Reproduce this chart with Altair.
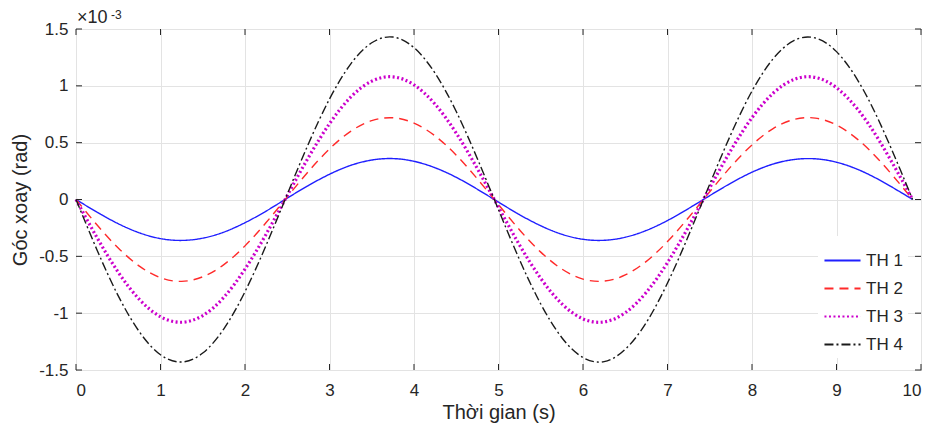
import altair as alt
import pandas as pd

# time samples (s)
t = [0, 0.25, 0.5, 0.75, 1.0, 1.25, 1.5, 1.75, 2.0, 2.25, 2.5, 2.75, 3.0, 3.25, 3.5, 3.75,
     4.0, 4.25, 4.5, 4.75, 5.0, 5.25, 5.5, 5.75, 6.0, 6.25, 6.5, 6.75, 7.0, 7.25, 7.5, 7.75,
     8.0, 8.25, 8.5, 8.75, 9.0, 9.25, 9.5, 9.75, 9.9]

# rotation angle (x 1e-3 rad)
th1 = [0, -0.112, -0.213, -0.293, -0.344, -0.360, -0.340, -0.287, -0.204, -0.102, 0.012, 0.123,
       0.222, 0.300, 0.347, 0.360, 0.336, 0.279, 0.195, 0.090, -0.023, -0.134, -0.231, -0.306,
       -0.350, -0.359, -0.332, -0.272, -0.185, -0.079, 0.034, 0.144, 0.240, 0.312, 0.352, 0.358,
       0.328, 0.265, 0.175, 0.068, 0]
th2 = [0, -0.225, -0.427, -0.586, -0.688, -0.720, -0.680, -0.573, -0.408, -0.203, 0.023, 0.246,
       0.445, 0.600, 0.694, 0.719, 0.672, 0.559, 0.390, 0.181, -0.045, -0.268, -0.463, -0.612,
       -0.700, -0.718, -0.664, -0.544, -0.370, -0.158, 0.068, 0.289, 0.480, 0.624, 0.705, 0.716,
       0.655, 0.529, 0.350, 0.136, 0]
th3 = [0, -0.337, -0.640, -0.879, -1.031, -1.080, -1.021, -0.860, -0.612, -0.305, 0.035, 0.369,
       0.667, 0.900, 1.041, 1.079, 1.009, 0.838, 0.584, 0.271, -0.068, -0.402, -0.694, -0.918,
       -1.050, -1.077, -0.996, -0.816, -0.555, -0.238, 0.103, 0.433, 0.720, 0.935, 1.057, 1.074,
       0.983, 0.794, 0.525, 0.204, 0]
th4 = [0, -0.446, -0.848, -1.164, -1.366, -1.430, -1.351, -1.138, -0.811, -0.403, 0.046, 0.489,
       0.884, 1.191, 1.379, 1.429, 1.336, 1.110, 0.774, 0.359, -0.090, -0.532, -0.919, -1.216,
       -1.390, -1.426, -1.318, -1.081, -0.735, -0.315, 0.136, 0.573, 0.954, 1.238, 1.400, 1.421,
       1.301, 1.051, 0.695, 0.270, 0]

series_names = ["TH 1", "TH 2", "TH 3", "TH 4"]
x_ticks = [0, 1, 2, 3, 4, 5, 6, 7, 8, 9, 10]
y_ticks = [-1.5, -1, -0.5, 0, 0.5, 1, 1.5]

rows = []
for name, vals in zip(series_names, [th1, th2, th3, th4]):
    for i, (tt, v) in enumerate(zip(t, vals)):
        rows.append({"t": tt, "v": v, "s": name, "o": i})
df = pd.DataFrame(rows)

FONT = "Liberation Sans"
TXT = "#262626"
W, H = 845, 341
xs = alt.Scale(domain=[0, 10], nice=False)
ys = alt.Scale(domain=[-1.5, 1.5], nice=False)

lines = alt.Chart(df).mark_line(interpolate="natural").encode(
    x=alt.X("t:Q", scale=xs,
            axis=alt.Axis(values=x_ticks, title="Thời gian (s)", labelExpr="toString(datum.value)",
                          grid=True, tickSize=0, labelPadding=12, titlePadding=4)),
    y=alt.Y("v:Q", scale=ys,
            axis=alt.Axis(values=y_ticks, title="Góc xoay (rad)", labelExpr="toString(datum.value)",
                          grid=True, tickSize=0, labelPadding=8, titlePadding=8)),
    color=alt.Color("s:N", scale=alt.Scale(domain=series_names,
                                           range=["#1f1fff", "#ff2a2a", "#cc00cc", "#1a1a1a"]),
                    legend=alt.Legend(title=None, orient="none", legendX=742, legendY=207,
                                      fillColor="white", padding=5, symbolType="stroke",
                                      symbolSize=1300, labelFontSize=17, labelFont=FONT,
                                      labelColor=TXT, rowPadding=-3, labelOffset=4,
                                      symbolStrokeWidth=2)),
    strokeDash=alt.StrokeDash("s:N", scale=alt.Scale(domain=series_names,
                                                     range=[[1, 0], [9, 6], [2, 2.5], [9, 3, 2, 3]]),
                              legend=None),
    strokeWidth=alt.condition(alt.datum.s == "TH 3", alt.value(3.2), alt.value(1.4)),
    order="o:Q",
)

xt = pd.DataFrame({"xv": x_ticks})
yt = pd.DataFrame({"yv": y_ticks})
tick_bottom = alt.Chart(xt).mark_rule(color=TXT).encode(
    x=alt.X("xv:Q", scale=xs), y=alt.value(H), y2=alt.value(H - 6))
tick_top = alt.Chart(xt).mark_rule(color=TXT).encode(
    x=alt.X("xv:Q", scale=xs), y=alt.value(0), y2=alt.value(6))
tick_left = alt.Chart(yt).mark_rule(color=TXT).encode(
    y=alt.Y("yv:Q", scale=ys), x=alt.value(0), x2=alt.value(6))
tick_right = alt.Chart(yt).mark_rule(color=TXT).encode(
    y=alt.Y("yv:Q", scale=ys), x=alt.value(W), x2=alt.value(W - 6))

exp1 = alt.Chart(pd.DataFrame({"a": ["×10"]})).mark_text(
    align="left", baseline="alphabetic", fontSize=18, font=FONT, color=TXT
).encode(x=alt.value(1), y=alt.value(-6), text="a:N")
exp2 = alt.Chart(pd.DataFrame({"a": ["-3"]})).mark_text(
    align="left", baseline="alphabetic", fontSize=12, font=FONT, color=TXT
).encode(x=alt.value(35), y=alt.value(-10), text="a:N")

chart = alt.layer(lines, tick_bottom, tick_top, tick_left, tick_right, exp1, exp2).properties(
    width=W, height=H,
    padding={"left": 68, "top": 21, "right": 12, "bottom": 58},
    autosize="none",
).configure_view(stroke=TXT, strokeWidth=1).configure_axis(
    domain=False, gridColor="#e3e3e3", gridWidth=1,
    labelFont=FONT, labelFontSize=17, labelColor=TXT,
    titleFont=FONT, titleFontSize=20, titleColor=TXT, titleFontWeight="normal",
).resolve_scale(x="shared", y="shared")

chart.save("out.html", embed_options={"renderer": "svg", "actions": False})
